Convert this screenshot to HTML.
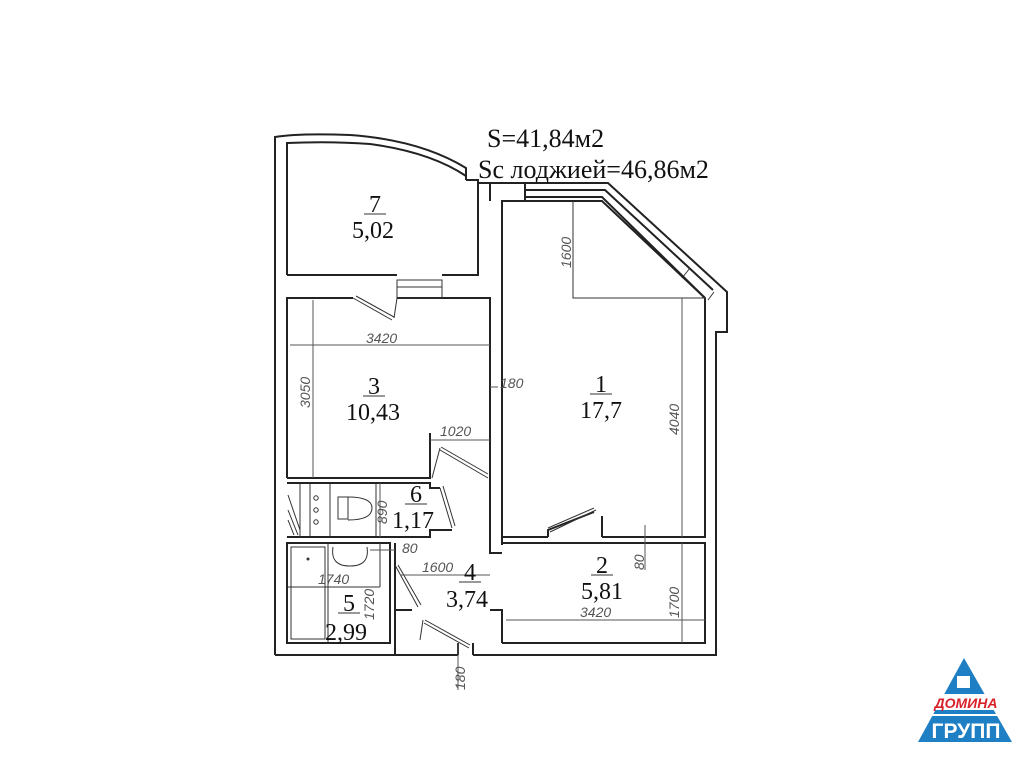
<!DOCTYPE html>
<html><head><meta charset="utf-8"><style>
html,body{margin:0;padding:0;background:#fff;width:1024px;height:757px;overflow:hidden}
svg{display:block}
.w{fill:none;stroke:#222;stroke-width:2}
.t{stroke:#333;stroke-width:1;fill:none}
.d{stroke:#555;stroke-width:1;fill:none}
.big{font-family:"Liberation Serif",serif;font-size:26px;fill:#111}
.lbl{font-family:"Liberation Serif",serif;font-size:24px;fill:#111;text-anchor:middle}
.dim{font-family:"Liberation Sans",sans-serif;font-style:italic;font-size:14px;fill:#555}
</style></head><body>
<svg width="1024" height="757" viewBox="0 0 1024 757">
<rect width="1024" height="757" fill="#fff"/>
<path class="w" d="M275,655 L275,137 Q300,133 350,135 Q420,140 466,168 L466,180"/>
<path class="w" d="M287,275 L287,143 Q330,141 370,144 Q430,152 466,176"/>
<path class="w" d="M466,180 L478,180 L478,275 L442,275 M397,275 L353,275 L287,275"/>
<path class="w" d="M478,183 L608,183 L727,292 L727,332 L716,332 L716,655 L473,655 M458,655 L275,655"/>
<path class="w" d="M490,183 L490,201 M525,183 L525,201 M525,190 L605,190 L713,290 M525,197 L602,197 L705,298"/>
<path class="t" d="M690,268 L682,278 M714,292 L708,300"/>
<path class="w" d="M502,545 L502,201 L602,201 L705,298 L705,537 L602,537 M548,537 L502,537"/>
<path class="t" d="M573,201 L573,298 L705,298"/>
<path class="w" d="M548,537 L548,530 L594,512 M602,537 L602,516"/>
<path class="t" d="M550,532 L596,510 M548,528 L594,508"/>
<path class="w" d="M287,478 L287,298 L353,298 M397,298 L490,298 L490,553 L502,553"/>
<path class="w" d="M287,478 L430,478 L430,433"/>
<rect x="397" y="280" width="45" height="18" class="t"/>
<path class="t" d="M397,287 L442,287"/>
<path class="t" d="M353,298 L392,320 M356,296 L394,317"/>
<path class="t" d="M397,298 L394,318"/>
<path class="t" d="M440,450 L488,478 M441,447 L488,474"/>
<path class="t" d="M440,448 L432,478"/>
<path class="w" d="M287,483 L430,483 L430,488 L440,488 M287,537 L430,537 L430,530 L452,530"/>
<path class="t" d="M300,483 L300,537 M310,483 L310,537 M330,483 L330,537 M376,483 L376,537"/>
<path class="t" d="M288,495 L300,530 M288,510 L298,535 M288,520 L294,535" />
<circle cx="316" cy="498" r="2.2" class="t"/><circle cx="316" cy="510" r="2.2" class="t"/><circle cx="316" cy="522" r="2.2" class="t"/>
<rect x="338" y="497" width="10" height="22" class="t"/>
<path class="t" d="M348,497 Q372,497 372,508 Q372,520 348,520"/>
<path class="t" d="M440,488 L452,528 M443,486 L455,526"/>
<path class="w" d="M287,543 L390,543 L390,643 L287,643 Z M395,543 L395,655"/>
<rect x="291" y="547" width="34" height="92" class="t"/>
<path class="t" d="M328,543 L328,643 M287,587 L380,587 M380,543 L380,587"/>
<path class="t" d="M333,547 Q330,566 350,566 Q370,566 367,547"/>
<circle cx="308" cy="559" r="1.5" fill="#333"/>
<path class="t" d="M395,565 L418,607 M398,565 L421,605"/>
<path class="w" d="M395,610 L412,610"/>
<path class="d" d="M400,575 L490,575"/>
<path class="w" d="M490,610 L502,610 L502,643"/>
<path class="t" d="M425,620 L470,645 M424,623 L469,648 M423,620 L420,640"/>
<path class="w" d="M458,643 L458,655 M473,643 L473,655"/>
<path class="w" d="M502,543 L705,543 L705,643 L502,643"/>
<path class="d" d="M290,345 L490,345 M313,300 L313,478 M682,298 L682,537 M682,543 L682,643 M506,620 L705,620 M430,440 L490,440 M380,483 L380,537 M490,387 L498,387 M370,550 L395,550 M645,525 L645,570 M458,643 L458,690"/>
<text class="dim" x="366" y="343">3420</text>
<text class="dim" x="310" y="408" transform="rotate(-90 310 408)">3050</text>
<text class="dim" x="500" y="388">180</text>
<text class="dim" x="440" y="436">1020</text>
<text class="dim" x="571" y="268" transform="rotate(-90 571 268)">1600</text>
<text class="dim" x="679" y="435" transform="rotate(-90 679 435)">4040</text>
<text class="dim" x="387" y="524" transform="rotate(-90 387 524)">890</text>
<text class="dim" x="402" y="553">80</text>
<text class="dim" x="422" y="572">1600</text>
<text class="dim" x="318" y="584">1740</text>
<text class="dim" x="374" y="620" transform="rotate(-90 374 620)">1720</text>
<text class="dim" x="644" y="570" transform="rotate(-90 644 570)">80</text>
<text class="dim" x="679" y="618" transform="rotate(-90 679 618)">1700</text>
<text class="dim" x="580" y="617">3420</text>
<text class="dim" x="465" y="690" transform="rotate(-90 465 690)">180</text>
<text class="big" x="487" y="147">S=41,84м2</text>
<text class="big" x="478" y="178">Sc лоджией=46,86м2</text>
<text class="lbl" x="375" y="212">7</text><path class="t" d="M364,214 L386,214"/><text class="lbl" x="373" y="238">5,02</text>
<text class="lbl" x="374" y="394">3</text><path class="t" d="M363,396 L385,396"/><text class="lbl" x="373" y="420">10,43</text>
<text class="lbl" x="601" y="392">1</text><path class="t" d="M590,394 L612,394"/><text class="lbl" x="601" y="418">17,7</text>
<text class="lbl" x="416" y="502">6</text><path class="t" d="M405,504 L427,504"/><text class="lbl" x="413" y="528">1,17</text>
<text class="lbl" x="349" y="611">5</text><path class="t" d="M338,613 L360,613"/><text class="lbl" x="346" y="640">2,99</text>
<text class="lbl" x="470" y="580">4</text><path class="t" d="M459,582 L481,582"/><text class="lbl" x="467" y="607">3,74</text>
<text class="lbl" x="602" y="573">2</text><path class="t" d="M591,575 L613,575"/><text class="lbl" x="602" y="599">5,81</text>
<polygon points="964,658 1012,742 918,742" fill="#1f7fc4"/>
<rect x="957" y="676" width="13" height="12" fill="#fff"/>
<rect x="936" y="694" width="58" height="16" fill="#fff"/>
<text x="966" y="708" font-family="Liberation Sans,sans-serif" font-weight="bold" font-style="italic" font-size="14" fill="#d8222a" text-anchor="middle">ДОМИНА</text>
<rect x="924" y="714" width="84" height="2" fill="#fff"/>
<text x="966" y="738" font-family="Liberation Sans,sans-serif" font-weight="bold" font-size="21" fill="#fff" text-anchor="middle">ГРУПП</text>
</svg>
</body></html>
